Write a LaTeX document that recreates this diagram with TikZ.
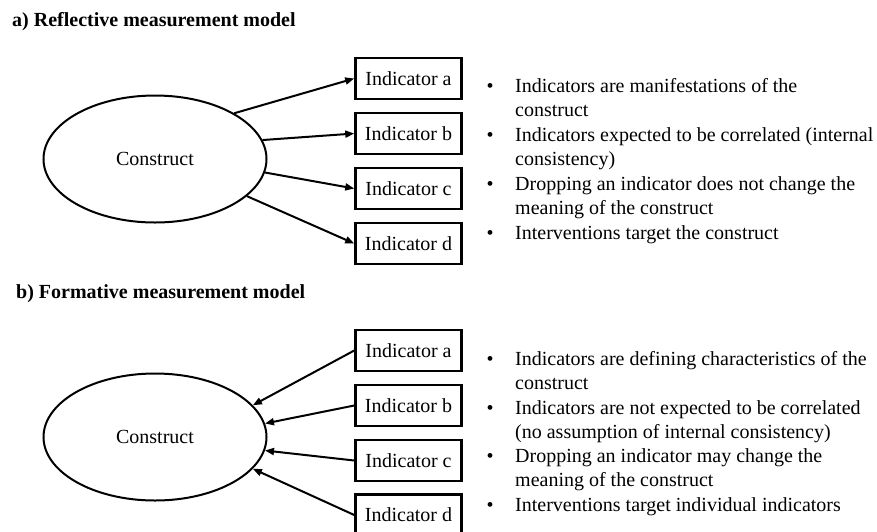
\documentclass[tikz,border=0pt]{standalone}
\usepackage{fontspec}
\setmainfont{Liberation Serif}
\usetikzlibrary{shapes.geometric,arrows.meta}
\begin{document}
\begin{tikzpicture}[x=1pt,y=-1pt,
  every node/.style={font=\fontsize{20}{24.5}\selectfont},
  title/.style={anchor=base west,inner sep=0pt,font=\fontsize{20}{24}\selectfont\bfseries},
  construct/.style={draw,ellipse,line width=2pt,minimum width=223pt,minimum height=127pt,inner sep=0pt},
  indbox/.style={draw,rectangle,line width=2.5pt,minimum width=106pt,minimum height=41pt,inner sep=0pt},
  link/.style={line width=2pt,-{Triangle[length=9pt,width=7pt]}},
  bul/.style={anchor=base,inner sep=0pt},
  item/.style={anchor=base west,align=left,inner sep=0pt}
]
\useasboundingbox (0,0) rectangle (877,531);
% ---------- a) reflective ----------
\node[title] (ta) at (12,26.5) {a) Reflective measurement model};
\node[construct] (ca) at (155,159) {Construct};
\node[indbox] (a1) at (408.5,78.5) {Indicator a};
\node[indbox] (a2) at (408.5,133.5) {Indicator b};
\node[indbox] (a3) at (408.5,188.5) {Indicator c};
\node[indbox] (a4) at (408.5,243.5) {Indicator d};
\draw[link] (ca.30) -- (a1.west);
\draw[link] (ca.10) -- (a2.west);
\draw[link] (ca.-7) -- (a3.west);
\draw[link] (ca.-22) -- (a4.west);
\node[bul] (ba1) at (490,92) {•};
\node[item] (ia1) at (515,116.5) {Indicators are manifestations of the\\construct};
\node[bul] (ba2) at (490,141) {•};
\node[item] (ia2) at (515,165.5) {Indicators expected to be correlated (internal\\consistency)};
\node[bul] (ba3) at (490,190) {•};
\node[item] (ia3) at (515,214.5) {Dropping an indicator does not change the\\meaning of the construct};
\node[bul] (ba4) at (490,239) {•};
\node[item] (ia4) at (515,239) {Interventions target the construct};
% ---------- b) formative ----------
\node[title] (tb) at (16,298) {b) Formative measurement model};
\node[construct] (cb) at (155,437) {Construct};
\node[indbox] (b1) at (408.5,350.5) {Indicator a};
\node[indbox] (b2) at (408.5,405.5) {Indicator b};
\node[indbox] (b3) at (408.5,460.5) {Indicator c};
\node[indbox] (b4) at (408.5,515) {Indicator d};
\draw[link] (b1.west) -- (cb.18);
\draw[link] (b2.west) -- (cb.7);
\draw[link] (b3.west) -- (cb.-7);
\draw[link] (b4.west) -- (cb.-18);
\node[bul] (bb1) at (490,365) {•};
\node[item] (ib1) at (515,389.5) {Indicators are defining characteristics of the\\construct};
\node[bul] (bb2) at (490,414) {•};
\node[item] (ib2) at (515,438.5) {Indicators are not expected to be correlated\\(no assumption of internal consistency)};
\node[bul] (bb3) at (490,462) {•};
\node[item] (ib3) at (515,486.5) {Dropping an indicator may change the\\meaning of the construct};
\node[bul] (bb4) at (490,511) {•};
\node[item] (ib4) at (515,511) {Interventions target individual indicators};
\end{tikzpicture}
\end{document}
